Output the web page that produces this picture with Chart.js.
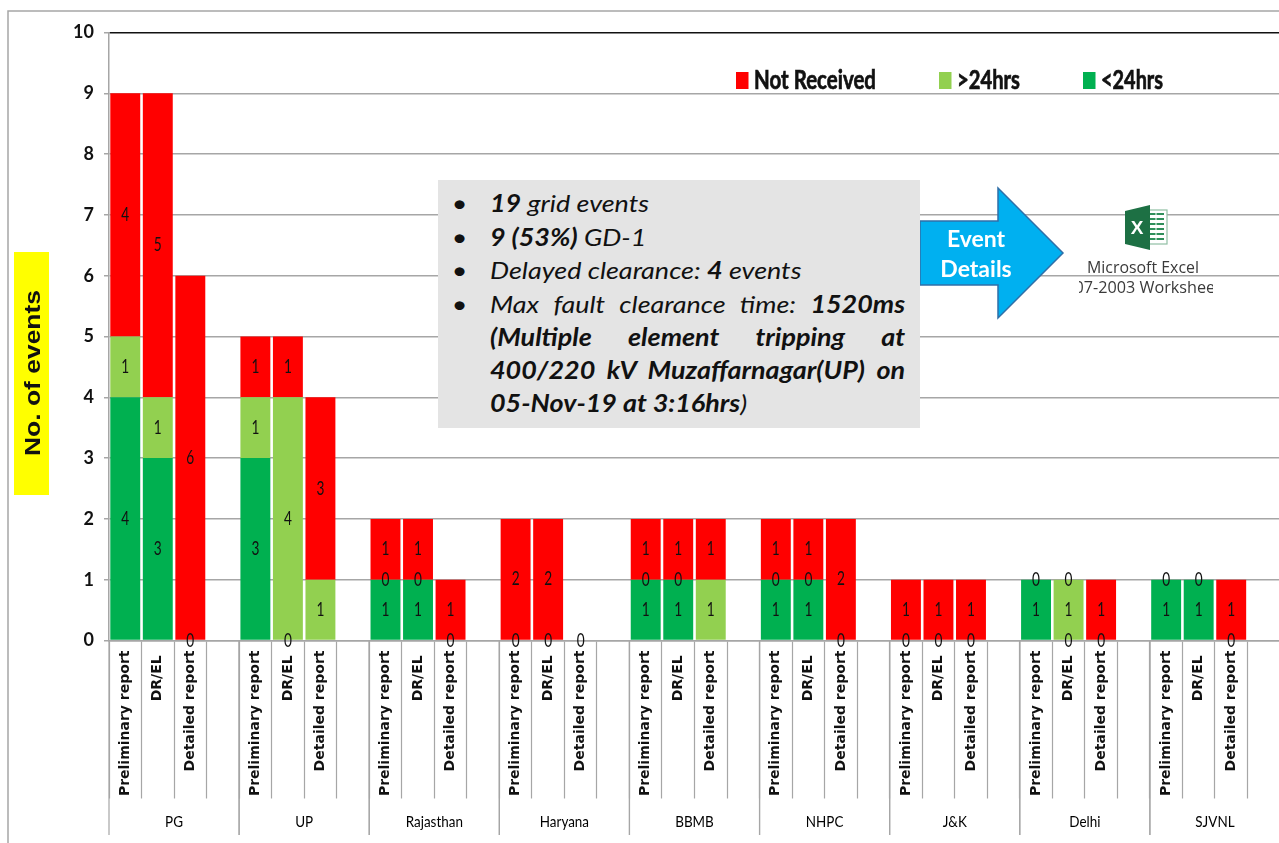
<!DOCTYPE html>
<html>
<head>
<meta charset="utf-8">
<title>Report submission status by utility</title>
<script src="https://cdn.jsdelivr.net/npm/chart.js@4"></script>
<style>
  html, body { margin: 0; padding: 0; background: #fff; overflow: hidden; width: 1279px; height: 843px; }
  #stage { position: relative; width: 1279px; height: 843px; overflow: hidden; }
  #chart { position: absolute; left: 0; top: 0; }
  #notes { position: absolute; left: 438px; top: 180px; width: 482px; height: 248px; background: #e4e4e4; }
  #notesText { position: absolute; left: 52px; top: 0; width: 370px; height: 248px; transform: scaleX(1.122); transform-origin: 0 0;
               font: italic 24px/33.3px Lato, sans-serif; color: #111; }
  #notesText .row { position: absolute; left: 0; width: 370px; white-space: nowrap; }
  #notesText .row.just { text-align: justify; text-align-last: justify; white-space: normal; }
  #notesText .dot { position: absolute; left: -34px; font-style: normal; }
  #arrow { position: absolute; left: 915px; top: 183px; }
  .cta { position: absolute; left: 926px; width: 100px; text-align: center; color: #fff;
         font: bold 23px Lato, sans-serif; }
  #icon { position: absolute; left: 1125px; top: 205px; }
  .cap { position: absolute; color: #3a3a3a; font: 15.9px "Open Sans", sans-serif; white-space: nowrap; }
  #capClip { position: absolute; left: 1079px; top: 276px; width: 134px; height: 22px; overflow: hidden; }
  #capClip span { position: absolute; left: 59.5px; top: 0; transform: translateX(-50%); white-space: nowrap;
                  color: #3a3a3a; font: 16.2px "Open Sans", sans-serif; }
</style>
</head>
<body>
<div id="stage">
  <canvas id="chart" width="1300" height="843"></canvas>
  <svg id="arrow" width="155" height="140" viewBox="915 183 155 140">
    <path d="M920 221 H998 V188 L1063 253 L998 318 V285 H920 Z" fill="#00b0f0" stroke="#2f6fa8" stroke-width="1.5"/>
  </svg>
  <div class="cta" style="top:224px">Event</div>
  <div class="cta" style="top:254px">Details</div>
  <svg id="icon" width="43" height="45" viewBox="0 0 43 45">
    <rect x="20" y="5" width="22" height="34" fill="#fff" stroke="#8fbfa3" stroke-width="1.2"/>
    <path d="M24 9h15M24 14h15M24 19h15M24 24h15M24 29h15M24 34h15" stroke="#2f8f5b" stroke-width="2.2"/>
    <path d="M31 8v28" stroke="#fff" stroke-width="1"/>
    <path d="M0 6 L25 0 V45 L0 39 Z" fill="#1d7044"/>
    <text x="12" y="29" text-anchor="middle" font-family="Liberation Sans" font-weight="bold" font-size="19" fill="#fff">X</text>
  </svg>
  <div class="cap" style="left:1087px;top:256px">Microsoft Excel</div>
  <div id="capClip"><span>2007-2003 Worksheet</span></div>
  <div id="notes">
    <div id="notesText">
      <div class="row" style="top:6px"><span class="dot">•</span><b>19</b> grid events</div>
      <div class="row" style="top:40px"><span class="dot">•</span><b>9 (53%)</b> GD-1</div>
      <div class="row" style="top:73px"><span class="dot">•</span>Delayed clearance: <b>4</b> events</div>
      <div class="row just" style="top:107px"><span class="dot">•</span>Max fault clearance time: <b>1520ms</b></div>
      <div class="row just" style="top:140px"><b>(Multiple element tripping at</b></div>
      <div class="row just" style="top:173px"><b>400/220 kV Muzaffarnagar(UP) on</b></div>
      <div class="row" style="top:206px"><b>05-Nov-19 at 3:16hrs</b>)</div>
    </div>
  </div>
</div>
<script>
// Report types shown for every utility, and the utilities themselves.
const reportTypes = ['Preliminary report', 'DR/EL', 'Detailed report'];
const groupNames = ['PG', 'UP', 'Rajasthan', 'Haryana', 'BBMB', 'NHPC', 'J&K', 'Delhi', 'SJVNL'];

// One value per report type; null marks blank cells and the empty slot closing each group.
const within24 = [4, 3, 0, null,  3, 0, null, null,  1, 1, 0, null,  0, 0, 0, null,  1, 1, null, null,
                  1, 1, 0, null,  0, 0, 0, null,  1, 0, 0, null,  1, 1, 0, null];
const after24 = [1, 1, 0, null,  1, 4, 1, null,  0, 0, 0, null,  0, 0, 0, null,  0, 0, 1, null,
                 0, 0, 0, null,  0, 0, 0, null,  0, 1, 0, null,  0, 0, 0, null];
const notReceived = [4, 5, 6, null,  1, 1, 3, null,  1, 1, 1, null,  2, 2, 0, null,  1, 1, 1, null,
                     1, 1, 2, null,  1, 1, 1, null,  0, 0, 1, null,  0, 0, 1, null];

const yTicks = [0, 1, 2, 3, 4, 5, 6, 7, 8, 9, 10];
const axisTitle = 'No. of events';
const legendOrder = ['Not Received', '>24hrs', '<24hrs'];

const categories = groupNames.flatMap(() => [...reportTypes, '']);
const GRID = '#a6a6a6';
const SANS = 'Lato, sans-serif';

// Writes centred text squeezed or widened along its own baseline.
function scaledText(c, text, x, y, sx) {
  c.save();
  c.translate(x, y);
  c.scale(sx, 1);
  c.fillText(text, 0, 0);
  c.restore();
}

// Outer frame and the yellow axis-title tag, behind everything else.
const backdrop = {
  id: 'backdrop',
  beforeDraw(chart) {
    const c = chart.ctx;
    c.save();
    c.strokeStyle = GRID;
    c.lineWidth = 1.5;
    c.beginPath();
    c.moveTo(8, 843); c.lineTo(8, 11); c.lineTo(1300, 11);
    c.stroke();
    c.fillStyle = '#ffff00';
    c.fillRect(14, 252, 35, 243);
    c.translate(40, 373);
    c.rotate(-Math.PI / 2);
    c.fillStyle = '#111';
    c.font = 'bold 21.5px "Liberation Sans", Arial, sans-serif';
    c.textAlign = 'center';
    c.textBaseline = 'alphabetic';
    scaledText(c, axisTitle, 0, 0, 1.23);
    c.restore();
  }
};

// Value printed at the middle of every stacked segment; coincident zeros print once.
const segmentValues = {
  id: 'segmentValues',
  afterDatasetsDraw(chart) {
    const c = chart.ctx;
    const seen = new Set();
    c.save();
    c.fillStyle = '#111';
    c.font = '19px ' + SANS;
    c.textAlign = 'center';
    c.textBaseline = 'middle';
    chart.data.datasets.forEach((ds, i) => {
      chart.getDatasetMeta(i).data.forEach((bar, j) => {
        if (ds.data[j] === null) return;
        const p = bar.getCenterPoint();
        const key = j + ':' + Math.round(p.y);
        if (seen.has(key)) return;
        seen.add(key);
        scaledText(c, String(ds.data[j]), p.x, p.y, 0.72);
      });
    });
    c.restore();
  }
};

// Second tier of the category axis: long separators and utility names.
const groupTier = {
  id: 'groupTier',
  afterDraw(chart) {
    const x = chart.scales.x;
    const c = chart.ctx;
    const slots = reportTypes.length + 1;
    const half = (x.getPixelForValue(1) - x.getPixelForValue(0)) / 2;
    c.save();
    c.strokeStyle = GRID;
    c.lineWidth = 1.2;
    c.fillStyle = '#000';
    c.font = '16px ' + SANS;
    c.textAlign = 'center';
    c.textBaseline = 'middle';
    groupNames.forEach((name, g) => {
      const first = x.getPixelForValue(g * slots) - half;
      const last = x.getPixelForValue(g * slots + slots - 1) + half;
      c.beginPath();
      c.moveTo(first, 640); c.lineTo(first, 835);
      c.moveTo(last, 640); c.lineTo(last, 835);
      c.stroke();
      scaledText(c, name, (first + last) / 2, 822, 0.84);
    });
    c.restore();
  }
};

// Legend placed inside the plot, in reverse stacking order.
const insideLegend = {
  id: 'insideLegend',
  afterDatasetsDraw(chart) {
    const c = chart.ctx;
    const swatchX = [736, 939, 1083];
    const widths = [122, 63, 62];
    c.save();
    c.font = 'bold 27px ' + SANS;
    c.textBaseline = 'middle';
    c.lineWidth = 0.7;
    legendOrder.forEach((name, i) => {
      const ds = chart.data.datasets.find(d => d.label === name);
      c.fillStyle = ds.backgroundColor;
      c.fillRect(swatchX[i], 72, 12.5, 17);
      c.fillStyle = '#111';
      c.strokeStyle = '#111';
      c.fillText(name, swatchX[i] + 18, 80, widths[i]);
      c.strokeText(name, swatchX[i] + 18, 80, widths[i]);
    });
    c.restore();
  }
};

new Chart(document.getElementById('chart'), {
  type: 'bar',
  data: {
    labels: categories,
    datasets: [
      { label: '<24hrs', data: within24, backgroundColor: '#00b050' },
      { label: '>24hrs', data: after24, backgroundColor: '#92d050' },
      { label: 'Not Received', data: notReceived, backgroundColor: '#ff0000' }
    ]
  },
  options: {
    responsive: false,
    animation: false,
    layout: { padding: { top: 32.5, right: 20, left: 0, bottom: 0 } },
    datasets: { bar: { barPercentage: 0.92, categoryPercentage: 1 } },
    plugins: { legend: { display: false }, tooltip: { enabled: false }, title: { display: false } },
    scales: {
      x: {
        stacked: true,
        afterFit(s) { s.height = 202.5; },
        border: { color: GRID, width: 1.5 },
        grid: { offset: true, drawOnChartArea: false, tickLength: 158, tickColor: GRID, tickWidth: 1.2 },
        ticks: {
          autoSkip: false, minRotation: 90, maxRotation: 90, padding: -148,
          color: '#111',
          // The short label sits a little lower than the long ones.
          callback(value) {
            const text = this.getLabelForValue(value);
            return text === 'DR/EL' ? text + '\u00a0' : text;
          },
          font: { family: '"DejaVu Sans", sans-serif', size: 14, weight: 'bold' }
        }
      },
      y: {
        stacked: true,
        min: yTicks[0],
        max: yTicks[yTicks.length - 1],
        afterFit(s) { s.width = 109; },
        border: { color: GRID, width: 1.5 },
        grid: {
          tickLength: 5,
          tickColor: GRID,
          lineWidth: 1.5,
          color: ctx => ctx.tick && ctx.tick.value === 10 ? '#111' : GRID
        },
        ticks: {
          stepSize: 1, padding: 10, color: '#111',
          font: { family: SANS, size: 18, weight: 'bold' }
        }
      }
    }
  },
  plugins: [backdrop, segmentValues, groupTier, insideLegend]
});
</script>
</body>
</html>
